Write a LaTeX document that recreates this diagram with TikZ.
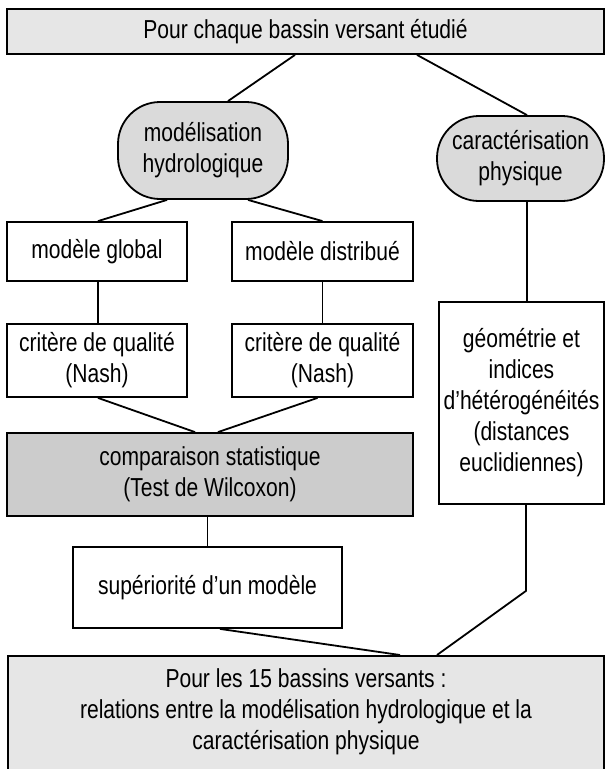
\documentclass[tikz,border=0pt]{standalone}
\usepackage{fontspec}
\setmainfont{Liberation Sans}[FakeStretch=0.81]
\definecolor{lightfill}{RGB}{230,230,230}
\definecolor{pillfill}{RGB}{218,218,218}
\definecolor{compfill}{RGB}{204,204,204}
\begin{document}
\begin{tikzpicture}[x=1pt,y=-1pt,
  base/.style={draw=black, line width=1.8pt, inner sep=0pt, align=center,
    font=\fontsize{26}{31}\selectfont},
  box/.style={base, rectangle, fill=white},
  pill/.style={base, rounded corners=42pt, fill=pillfill},
  link/.style={line width=1.8pt},
  vlink/.style={line width=1.3pt}]
\useasboundingbox (0,0) rectangle (608,769);

\node[box, fill=lightfill, minimum width=597pt, minimum height=45pt] (top) at (305.5,31.5) {Pour chaque bassin versant étudié};
\node[pill, minimum width=170pt, minimum height=97pt] (modhyd) at (203,150.5) {modélisation\\hydrologique};
\node[pill, minimum width=167pt, minimum height=85pt] (carphy) at (520.5,158.5) {caractérisation\\physique};
\node[box, minimum width=180pt, minimum height=59pt] (glob) at (97,251.5) {modèle global};
\node[box, minimum width=181pt, minimum height=59pt] (dist) at (322.5,251.5) {modèle distribué};
\node[box, minimum width=180pt, minimum height=73pt] (critA) at (97,360.5) {critère de qualité\\(Nash)};
\node[box, minimum width=181pt, minimum height=73pt] (critB) at (322.5,360.5) {critère de qualité\\(Nash)};
\node[box, minimum width=165pt, minimum height=202pt] (geom) at (521.5,403) {géométrie et\\indices\\d’hétérogénéités\\(distances\\euclidiennes)};
\node[box, fill=compfill, minimum width=406pt, minimum height=83pt] (comp) at (210,474.5) {comparaison statistique\\(Test de Wilcoxon)};
\node[box, minimum width=269pt, minimum height=81pt] (sup) at (207.5,587.5) {supériorité d’un modèle};
\node[box, fill=lightfill, minimum width=596pt, minimum height=130pt, anchor=north] (fin) at (306,655) {};
\node[align=center, inner sep=0pt, font=\fontsize{26}{31}\selectfont] (fintext) at (306,712) {Pour les 15 bassins versants :\\relations entre la modélisation hydrologique et la\\caractérisation physique};

\draw[link] ([xshift=-10.5pt]top.south) -- ([xshift=25pt]modhyd.north);
\draw[link] ([xshift=111.5pt]top.south) -- ([xshift=6.5pt]carphy.north);
\draw[link] ([xshift=-36pt]modhyd.south) -- ([xshift=1pt]glob.north);
\draw[link] ([xshift=45pt]modhyd.south) -- (dist.north);
\draw[vlink] ([xshift=1pt]glob.south) -- ([xshift=1pt]critA.north);
\draw[vlink] (dist.south) -- (critB.north);
\draw[vlink] ([xshift=6.5pt]carphy.south) -- ([xshift=5.5pt]geom.north);
\draw[link] ([xshift=1pt]critA.south) -- ([xshift=-15pt]comp.north);
\draw[link] ([xshift=-5pt]critB.south) -- ([xshift=8pt]comp.north);
\draw[vlink] (sup.north |- comp.south) -- (sup.north);
\draw[link] ([xshift=12.5pt]sup.south) -- ([xshift=94pt]fin.north);
\draw[link] ([xshift=4.5pt]geom.south) -- ++(0,86) coordinate (bend) -- ([xshift=131pt]fin.north);
\end{tikzpicture}
\end{document}
